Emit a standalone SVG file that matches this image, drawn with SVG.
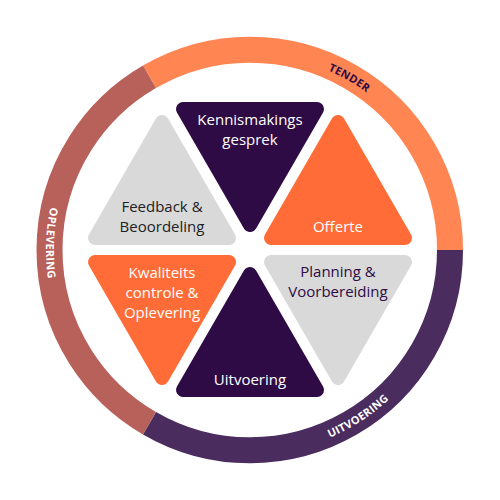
<svg xmlns="http://www.w3.org/2000/svg" width="500" height="500" viewBox="0 0 500 500">
<style>
.ring{fill:none;stroke-width:26}
.tri{stroke-width:14;stroke-linejoin:round}
.dp{fill:#2E0B45;stroke:#2E0B45}
.or{fill:#FF6C37;stroke:#FF6C37}
.gr{fill:#D9D9D9;stroke:#D9D9D9}
.lbl{font-family:"Open Sans","Liberation Sans",sans-serif;font-size:15px;text-anchor:middle}
.rl{font-family:"Open Sans","Liberation Sans",sans-serif;font-size:11px;font-weight:700;letter-spacing:0.3px}
</style>
<defs>
<path id="pTop" d="M215.96,56.98 A196 196 0 0 1 434.18,182.96"/>
<path id="pLeft" d="M98.40,113.50 A204 204 0 0 0 89.25,375.59"/>
<path id="pBot" d="M225.14,452.48 A204 204 0 0 0 445.09,309.64"/>
</defs>
<rect width="500" height="500" fill="#fff"/>
<g id="ring">
<path class="ring" stroke="#FF8552" d="M149.5,76.8 A200 200 0 0 1 450,250"/>
<path class="ring" stroke="#4A2C5F" d="M450,250 A200 200 0 0 1 149.5,423.2"/>
<path class="ring" stroke="#B8605A" d="M149.5,423.2 A200 200 0 0 1 149.5,76.8"/>
<text class="rl" fill="#2E0B45"><textPath href="#pTop" startOffset="50%" text-anchor="middle">TENDER</textPath></text>
<text class="rl" fill="#fff"><textPath href="#pLeft" startOffset="50%" text-anchor="middle">OPLEVERING</textPath></text>
<text class="rl" fill="#fff"><textPath href="#pBot" startOffset="50%" text-anchor="middle">UITVOERING</textPath></text>
</g>
<g id="kennismaking">
<polygon class="tri dp" points="183,109 317,109 250,225"/>
<text class="lbl" fill="#fff" x="250" y="125">Kennismakings</text>
<text class="lbl" fill="#fff" x="250" y="145">gesprek</text>
</g>
<g id="offerte">
<polygon class="tri or" points="271,238 405,238 338,122"/>
<text class="lbl" fill="#fff" x="338" y="232">Offerte</text>
</g>
<g id="planning">
<polygon class="tri gr" points="271,262 405,262 338,378"/>
<text class="lbl" fill="#2E0B45" x="338" y="277">Planning &amp;</text>
<text class="lbl" fill="#2E0B45" x="338" y="297">Voorbereiding</text>
</g>
<g id="uitvoering">
<polygon class="tri dp" points="183,390 317,390 250,274"/>
<text class="lbl" fill="#fff" x="250" y="385">Uitvoering</text>
</g>
<g id="kwaliteit">
<polygon class="tri or" points="95,262 229,262 162,378"/>
<text class="lbl" fill="#fff" x="162" y="278">Kwaliteits</text>
<text class="lbl" fill="#fff" x="162" y="298">controle &amp;</text>
<text class="lbl" fill="#fff" x="162" y="318">Oplevering</text>
</g>
<g id="feedback">
<polygon class="tri gr" points="95,238 229,238 162,122"/>
<text class="lbl" fill="#222" x="162" y="212">Feedback &amp;</text>
<text class="lbl" fill="#222" x="162" y="232">Beoordeling</text>
</g>
<g id="connectors"/>
</svg>
